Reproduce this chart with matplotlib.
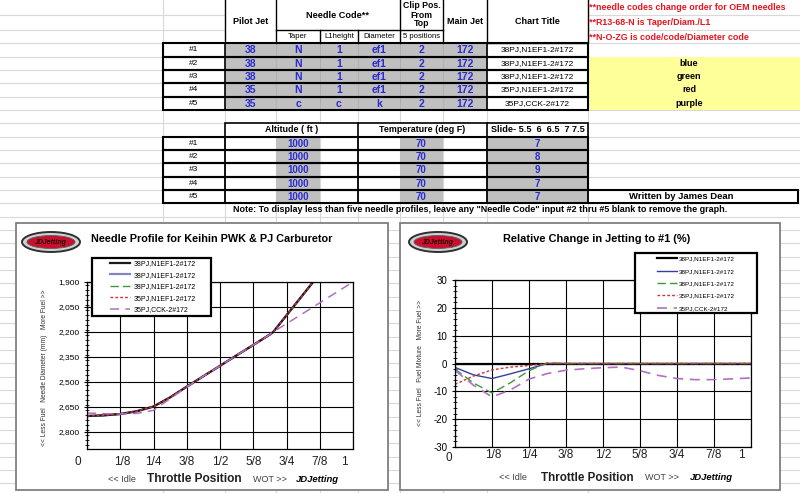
import matplotlib
matplotlib.use("Agg")
import matplotlib.pyplot as plt
from matplotlib.patches import Rectangle, Ellipse
from matplotlib.ticker import MultipleLocator, FuncFormatter

plt.rcParams['font.family'] = ['Liberation Sans', 'DejaVu Sans']
plt.rcParams['axes.unicode_minus'] = False

# ---------------- spreadsheet inputs ----------------
row_labels = ['#1', '#2', '#3', '#4', '#5']
pilot_jet = ['38', '38', '38', '35', '35']
taper = ['N', 'N', 'N', 'N', 'c']
l1_height = ['1', '1', '1', '1', 'c']
diameter = ['ef1', 'ef1', 'ef1', 'ef1', 'k']
clip_pos = ['2', '2', '2', '2', '2']
main_jet = ['172', '172', '172', '172', '172']
chart_titles = ['38PJ,N1EF1-2#172', '38PJ,N1EF1-2#172', '38PJ,N1EF1-2#172',
                '35PJ,N1EF1-2#172', '35PJ,CCK-2#172']
color_names = ['', 'blue', 'green', 'red', 'purple']
altitude = ['1000', '1000', '1000', '1000', '1000']
temperature = ['70', '70', '70', '70', '70']
slide = ['7', '8', '9', '7', '7']
red_notes = ['**needle codes change order for OEM needles',
             '**R13-68-N is Taper/Diam./L1',
             '**N-O-ZG is code/code/Diameter code']
note_text = ('Note: To display less than five needle profiles, leave any "Needle Code" '
             'input #2 thru #5 blank to remove the graph.')

# ---------------- chart data ----------------
throttle_ticks = [0, 0.125, 0.25, 0.375, 0.5, 0.625, 0.75, 0.875, 1.0]
throttle_labels = ['0', '1/8', '1/4', '3/8', '1/2', '5/8', '3/4', '7/8', '1']

# needle diameter profile (left chart)
profile_x = [0, 0.0625, 0.125, 0.1875, 0.25, 0.3125, 0.375, 0.4375, 0.5, 0.5625,
             0.625, 0.6875, 0.70, 0.75, 0.8125, 0.875, 0.9375, 1.0]
needle_n1ef1 = [2704, 2700, 2692, 2675, 2647, 2592, 2528, 2465, 2403, 2340,
                2278, 2215, 2200, 2100, 1975, 1850, 1725, 1600]
needle_cck = [2686, 2690, 2692, 2688, 2670, 2600, 2530, 2465, 2403, 2340,
              2278, 2215, 2200, 2150, 2088, 2025, 1962, 1900]
needle_ticks = [1900, 2050, 2200, 2350, 2500, 2650, 2800]

# relative change to #1 in % (right chart)
change_x = [0, 0.0625, 0.125, 0.1875, 0.25, 0.3125, 0.375, 0.4375, 0.5, 0.5625,
            0.625, 0.6875, 0.75, 0.8125, 0.875, 0.9375, 1.0]
change_1 = [0, 0, 0, 0, 0, 0, 0, 0, 0, 0, 0, 0, 0, 0, 0, 0, 0]
change_2 = [-1.4, -4.1, -5.4, -3.7, -1.9, 0, 0, 0, 0, 0, 0, 0, 0, 0, 0, 0, 0]
change_3 = [-2.0, -7.0, -10.6, -6.9, -2.6, 0.3, 0, 0, 0, 0, 0, 0, 0, 0, 0, 0, 0]
change_4 = [-7.5, -4.5, -2.3, -1.3, -0.7, 0, 0, 0, 0, 0, 0, 0, 0, 0, 0, 0, 0]
change_5 = [-2.5, -7.8, -12.0, -9.5, -5.6, -3.6, -2.4, -1.9, -1.5, -1.3,
            -2.6, -4.3, -5.4, -5.8, -5.8, -5.5, -5.2]
change_ticks = [-30, -20, -10, 0, 10, 20, 30]

W, H = 800, 493
fig = plt.figure(figsize=(W / 100, H / 100), dpi=100)
bg = fig.add_axes([0, 0, 1, 1])
bg.set_xlim(0, W)
bg.set_ylim(H, 0)
bg.axis('off')

BLUE_TXT = '#2b2bd0'
GRAY = '#c0c0c0'
GRID = '#d9d9d9'

# sheet gridlines
for y in [15, 30] + [43.33 + 13.333 * k for k in range(35)]:
    bg.plot([0, W], [y, y], color=GRID, lw=0.8, zorder=0)
for x in [163, 225, 276, 320, 358, 400, 443, 487, 588]:
    bg.plot([x, x], [0, H], color=GRID, lw=0.8, zorder=0)


def box(x0, y0, x1, y1, fc='white', ec='black', lw=1.3, z=2):
    bg.add_patch(Rectangle((x0, y0), x1 - x0, y1 - y0, facecolor=fc,
                           edgecolor=ec, lw=lw, zorder=z))


def vline(x, y0, y1, lw=1.0, c='black', z=3):
    bg.plot([x, x], [y0, y1], color=c, lw=lw, zorder=z)


def txt(x, y, s, size=6, weight='normal', color='black', ha='center', **kw):
    bg.text(x, y, s, fontsize=size, fontweight=weight, color=color, ha=ha,
            va='center', zorder=5, **kw)


# ---------------- table 1 ----------------
hdr_bottom = 43.33
box(225, -2, 588, hdr_bottom, lw=1.0)
for x in [276, 400, 443, 487]:
    vline(x, -2, hdr_bottom)
for x in [320, 358]:
    vline(x, 30, hdr_bottom)
bg.plot([276, 443], [30, 30], color='black', lw=1.0, zorder=3)
txt(250.5, 21, 'Pilot Jet', size=6.5, weight='bold')
txt(338, 15, 'Needle Code**', size=6.6, weight='bold')
txt(298, 37, 'Taper', size=5.6)
txt(339, 37, 'L1height', size=5.6)
txt(379, 37, 'Diameter', size=5.6)
txt(421.5, 15, 'Clip Pos.\nFrom\nTop', size=6.3, weight='bold', linespacing=1.0)
txt(421.5, 37, '5 positions', size=5.6)
txt(465, 21, 'Main Jet', size=6.5, weight='bold')
txt(537.5, 21, 'Chart Title', size=6.5, weight='bold')

for i, t in enumerate(red_notes):
    txt(589, 8 + 14.5 * i, t, size=6.4, weight='bold', color='#e8141e', ha='left')

row_h = 13.333
bg.add_patch(Rectangle((588, hdr_bottom + row_h), W - 588, 4 * row_h,
                       facecolor='#ffff99', edgecolor='none', zorder=1))
for i in range(5):
    y0 = hdr_bottom + row_h * i
    y1 = y0 + row_h
    yc = (y0 + y1) / 2
    bg.add_patch(Rectangle((225, y0), 262, row_h, facecolor=GRAY,
                           edgecolor='none', zorder=2))
    for x in [276, 320, 358, 400, 443]:
        vline(x, y0, y1, lw=0.5, c='#a8a8a8', z=2.5)
    box(163, y0, 588, y1, fc='none', lw=1.5, z=3)
    vline(225, y0, y1, lw=1.2)
    vline(487, y0, y1, lw=1.2)
    txt(194, yc, row_labels[i], size=6)
    cols = [(250.5, pilot_jet), (298, taper), (339, l1_height),
            (379, diameter), (421.5, clip_pos), (465, main_jet)]
    for xc, vals in cols:
        txt(xc, yc + 0.5, vals[i], size=7.5, weight='bold', color=BLUE_TXT)
    txt(537.5, yc, chart_titles[i], size=6)
    if color_names[i]:
        txt(689, yc, color_names[i], size=6.5, weight='bold')

# ---------------- table 2 ----------------
t2_top = hdr_bottom + row_h * 6
box(225, t2_top, 588, t2_top + row_h, lw=1.2)
vline(358, t2_top, t2_top + row_h, lw=1.2)
vline(487, t2_top, t2_top + row_h, lw=1.2)
txt(291.5, t2_top + row_h / 2, 'Altitude ( ft )', weight='bold', size=6.4)
txt(422.5, t2_top + row_h / 2, 'Temperature (deg F)', weight='bold', size=6.4)
txt(537.5, t2_top + row_h / 2, 'Slide- 5.5  6  6.5  7 7.5', weight='bold', size=6.6)
for i in range(5):
    y0 = t2_top + row_h * (i + 1)
    y1 = y0 + row_h
    yc = (y0 + y1) / 2
    for x0, x1 in [(276, 320), (400, 443), (487, 588)]:
        bg.add_patch(Rectangle((x0, y0), x1 - x0, row_h, facecolor=GRAY,
                               edgecolor='none', zorder=2))
    right = W - 2 if i == 4 else 588
    box(163, y0, right, y1, fc='none', lw=1.5, z=3)
    for x in [225, 358, 487, 588]:
        vline(x, y0, y1, lw=1.3)
    txt(194, yc, row_labels[i], size=6)
    txt(298, yc + 0.5, altitude[i], size=7, weight='bold', color=BLUE_TXT)
    txt(421.5, yc + 0.5, temperature[i], size=7, weight='bold', color=BLUE_TXT)
    txt(537.5, yc + 0.5, slide[i], size=7, weight='bold', color=BLUE_TXT)
txt(681, t2_top + row_h * 5.5, 'Written by James Dean', weight='bold', size=6.8)
txt(480, 210, note_text, weight='bold', size=6.5)

# ---------------- chart frames ----------------
box(16, 223, 388, 490, fc='white', ec='#7f7f7f', lw=1.3, z=1)
box(400, 223, 780, 490, fc='white', ec='#7f7f7f', lw=1.3, z=1)


def logo(cx, cy):
    bg.add_patch(Ellipse((cx, cy), 58, 20, facecolor='#d0d0d0',
                         edgecolor='#303030', lw=1.4, zorder=4))
    bg.add_patch(Ellipse((cx, cy), 48, 13, facecolor='#c8102e',
                         edgecolor='#606060', lw=0.6, zorder=4))
    bg.text(cx, cy, 'JDJetting', fontsize=5, fontweight='bold', style='italic',
            color='#2a0000', ha='center', va='center', zorder=5)


logo(51, 242)
logo(438, 242)


def px_axes(x0, y0, x1, y1):
    return fig.add_axes([x0 / W, 1 - y1 / H, (x1 - x0) / W, (y1 - y0) / H])


def fig_box(ax, x0, y0, x1, y1):
    # legend frame drawn as its own box so it matches the sheet layout
    ax.add_patch(Rectangle((x0 / W, 1 - y1 / H), (x1 - x0) / W, (y1 - y0) / H,
                           transform=fig.transFigure, facecolor='white',
                           edgecolor='black', lw=1.6, zorder=4.5, clip_on=False))


def style_axes(ax):
    ax.set_xlim(0, 1)
    ax.set_xticks(throttle_ticks)
    ax.set_xticklabels([])
    ax.tick_params(axis='x', length=0)
    ax.tick_params(axis='y', which='major', direction='inout', length=5,
                   width=0.8, labelsize=6, pad=3)
    ax.tick_params(axis='y', which='minor', direction='inout', length=3, width=0.6)
    ax.grid(True, which='major', color='black', lw=0.8)
    for s in ax.spines.values():
        s.set_color('black')
        s.set_linewidth(0.9)


def under_labels(ax, y_axes, nudge, x_idle, x_tp, x_wot, x_jd, y_px, tp_size):
    for pos, lbl, (dx, dy) in zip(throttle_ticks, throttle_labels, nudge):
        ax.text(pos + dx, y_axes + dy, lbl, transform=ax.get_xaxis_transform(),
                ha='center', va='center', fontsize=8.5, color='#202020')
    txt(x_idle, y_px, '<< Idle', size=6.5, color='#404040')
    txt(x_tp, y_px, 'Throttle Position', size=tp_size, weight='bold', color='#202020')
    txt(x_wot, y_px, 'WOT >>', size=6.5, color='#404040')
    txt(x_jd, y_px, 'JDJetting', size=6.8, weight='bold', style='italic')


nudge_left = [(-0.035, 0)] + [(0.006, 0)] + [(0, 0)] * 6 + [(-0.032, 0)]
nudge_right = [(-0.022, -0.02)] + [(0.004, 0)] + [(0, 0)] * 6 + [(-0.032, 0)]

# ---------------- left chart: needle profile ----------------
ax1 = px_axes(87, 282, 353, 448.7)
style_axes(ax1)
ax1.set_ylim(2900, 1900)
ax1.set_yticks(needle_ticks)
ax1.yaxis.set_major_formatter(FuncFormatter(lambda v, p: f'{v:,.0f}'))
ax1.yaxis.set_minor_locator(MultipleLocator(30))
l2, = ax1.plot(profile_x, needle_n1ef1, color='#8484c8', lw=1.6, zorder=2.1)
l3, = ax1.plot(profile_x, needle_n1ef1, color='#3a9a3a', lw=1.0,
               ls=(0, (6, 3)), zorder=2.2)
l1, = ax1.plot(profile_x, needle_n1ef1, color='#1a1a1a', lw=1.6, zorder=2.3)
l4, = ax1.plot(profile_x, needle_n1ef1, color='#cc3333', lw=1.0,
               ls=(0, (2, 1.5)), zorder=2.4)
l5, = ax1.plot(profile_x, needle_cck, color='#b070c0', lw=1.1,
               ls=(0, (6, 4)), zorder=2.5)
fig_box(ax1, 92, 258, 211, 316)
ax1.legend([l1, l2, l3, l4, l5], chart_titles, loc='upper left',
           bbox_to_anchor=(110 / W, 1 - 260 / H), bbox_transform=fig.transFigure,
           fontsize=5, frameon=False, borderpad=0, handlelength=2.9,
           handletextpad=0.45, labelspacing=0.66, borderaxespad=0).set_zorder(5)
bg.text(91, 239, 'Needle Profile for Keihin PWK & PJ Carburetor', fontsize=7.8,
        fontweight='bold', ha='left', va='center', zorder=5)
bg.text(45, 368, '<< Less Fuel   Needle Diameter (mm)   More Fuel >>', fontsize=4.8,
        rotation=90, ha='center', va='center', color='#303030', zorder=5)
under_labels(ax1, -0.08, nudge_left, 122, 194, 270, 317, 479, 8.6)

# ---------------- right chart: relative change ----------------
ax2 = px_axes(455, 280, 751, 447)
style_axes(ax2)
ax2.set_ylim(-30, 30)
ax2.set_yticks(change_ticks)
ax2.yaxis.set_minor_locator(MultipleLocator(2))
ax2.tick_params(axis='y', labelsize=7)
r1, = ax2.plot(change_x, change_1, color='black', lw=1.6, zorder=2.1)
r2, = ax2.plot(change_x, change_2, color='#3a3aa0', lw=1.0, zorder=2.2)
r3, = ax2.plot(change_x, change_3, color='#3a9a3a', lw=1.0,
               ls=(0, (6, 3)), zorder=2.3)
r4, = ax2.plot(change_x, change_4, color='#cc3333', lw=1.0,
               ls=(0, (2, 1.5)), zorder=2.4)
r5, = ax2.plot(change_x, change_5, color='#b070c0', lw=1.2,
               ls=(0, (6, 4)), zorder=2.5)
fig_box(ax2, 635, 253, 757, 313)
ax2.legend([r1, r2, r3, r4, r5], chart_titles, loc='upper left',
           bbox_to_anchor=(657 / W, 1 - 256 / H), bbox_transform=fig.transFigure,
           fontsize=4.6, frameon=False, borderpad=0, handlelength=3.1,
           handletextpad=0.3, labelspacing=1.08, borderaxespad=0).set_zorder(5)
bg.text(597, 239, 'Relative Change in Jetting to #1 (%)', fontsize=7.9,
        fontweight='bold', ha='center', va='center', zorder=5)
bg.text(420, 363, '<< Less Fuel   Fuel Mixture   More Fuel >>', fontsize=4.8,
        rotation=90, ha='center', va='center', color='#303030', zorder=5)
under_labels(ax2, -0.045, nudge_right, 513, 587, 662, 711, 478, 8.4)

fig.savefig('out.png', dpi=100)
